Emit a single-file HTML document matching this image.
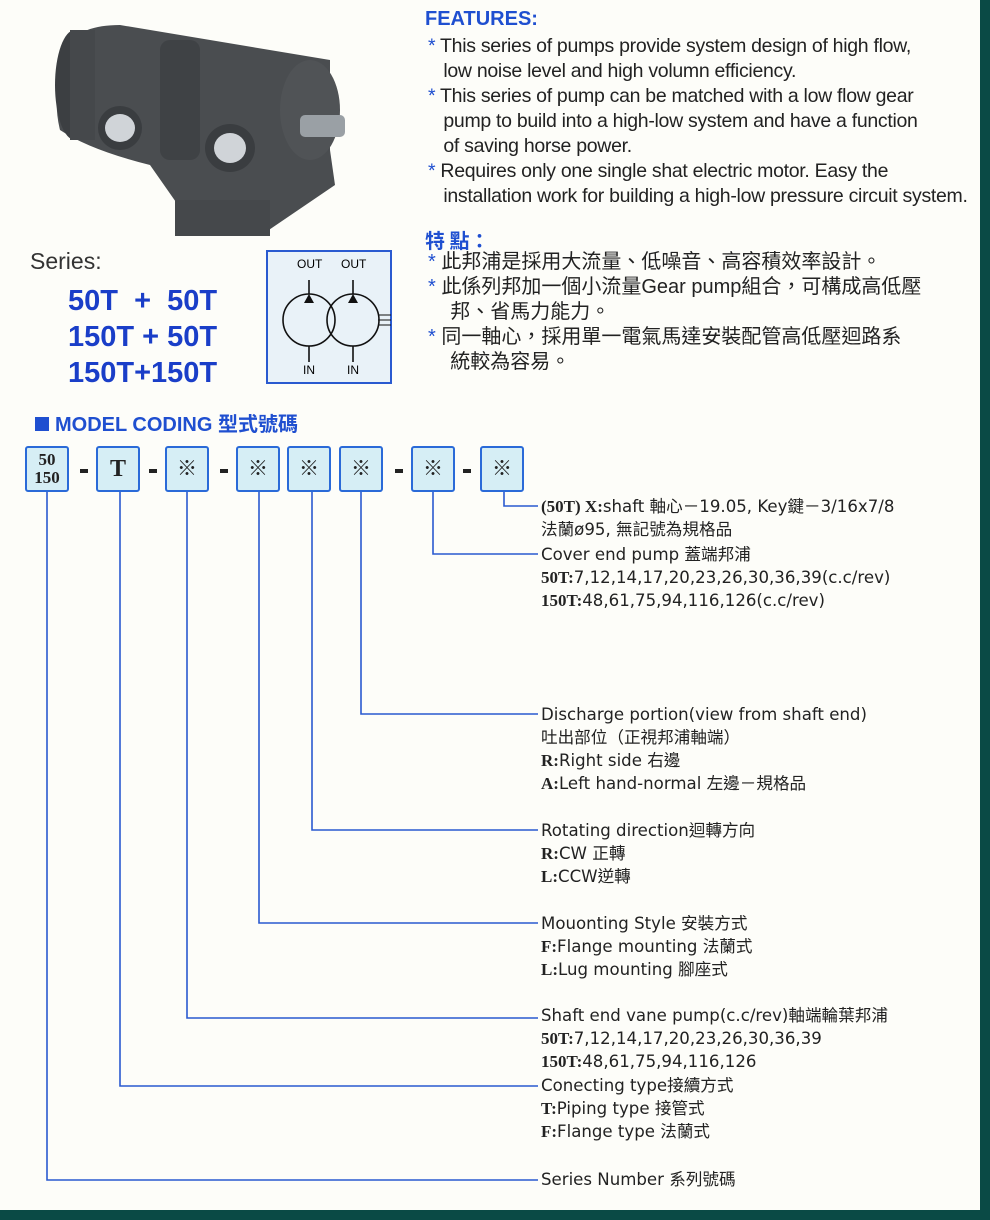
<!DOCTYPE html>
<html><head><meta charset="utf-8"><style>
body{margin:0;width:990px;height:1220px;overflow:hidden;background:#fdfdf9;position:relative;font-family:"Liberation Sans","Noto Sans CJK TC",sans-serif;}
.a{position:absolute;white-space:nowrap;}
.f{font-size:19.5px;color:#222;letter-spacing:-0.3px}
.c{font-size:20px;color:#222;font-family:"Liberation Sans","Noto Sans CJK TC",sans-serif;}
.s{color:#1f4fd0;}
.t{position:absolute;left:541px;font-size:16.6px;color:#222;line-height:23px;white-space:nowrap;font-family:"DejaVu Sans","Noto Sans CJK TC",sans-serif;}
.t b{font-family:"Liberation Serif","Noto Serif CJK SC",serif;font-size:17px;}
.box{position:absolute;top:446px;width:44px;height:46px;border:2px solid #2a6ad8;border-radius:3px;background:#d6eef5;box-sizing:border-box;text-align:center;font-size:20px;line-height:42px;color:#222;font-family:"Liberation Serif","Noto Sans CJK TC",serif;}
.d{position:absolute;top:469px;width:8px;height:4px;background:#222;}
</style></head><body>
<div style="position:absolute;right:0;top:0;width:10px;height:1220px;background:#0a4a45"></div>
<div style="position:absolute;left:0;bottom:0;width:990px;height:10px;background:#0a4a45"></div>

<svg class="a" style="left:0;top:0" width="400" height="240">
<path d="M70 45 Q80 25 120 25 L330 60 L330 150 L335 185 L260 236 L175 236 L178 205 L150 165 Q90 150 60 130 Q50 90 70 45Z" fill="#4a4d50"/>
<ellipse cx="75" cy="85" rx="20" ry="55" fill="#3c3f42"/>
<rect x="70" y="30" width="25" height="110" fill="#45484b"/>
<rect x="160" y="40" width="40" height="120" fill="#3f4245" rx="10"/>
<ellipse cx="120" cy="128" rx="22" ry="22" fill="#3a3d40"/><ellipse cx="120" cy="128" rx="15" ry="14" fill="#d0d4d8"/>
<ellipse cx="230" cy="148" rx="25" ry="24" fill="#3a3d40"/><ellipse cx="230" cy="148" rx="16" ry="15" fill="#d0d4d8"/>
<ellipse cx="310" cy="110" rx="30" ry="50" fill="#505356"/>
<rect x="300" y="115" width="45" height="22" fill="#9aa0a5" rx="5"/>
<rect x="175" y="200" width="95" height="36" fill="#45484b"/>
</svg>

<div class="a" style="left:30px;top:248px;font-size:23px;color:#333">Series:</div>
<div class="a" style="left:68px;top:283px;font-size:29px;font-weight:bold;color:#1a3ec8;line-height:36px">50T &nbsp;+ &nbsp;50T<br>150T + 50T<br>150T+150T</div>

<svg class="a" style="left:266px;top:250px" width="126" height="134">
<rect x="1" y="1" width="124" height="132" fill="#e9f2f8" stroke="#2a5ad0" stroke-width="2"/>
<circle cx="43" cy="70" r="26" fill="none" stroke="#111" stroke-width="1.6"/>
<circle cx="87" cy="70" r="26" fill="none" stroke="#111" stroke-width="1.6"/>
<line x1="43" y1="30" x2="43" y2="44" stroke="#111" stroke-width="1.6"/><line x1="87" y1="30" x2="87" y2="44" stroke="#111" stroke-width="1.6"/>
<polygon points="43,44 38,53 48,53" fill="#111"/><polygon points="87,44 82,53 92,53" fill="#111"/>
<line x1="43" y1="96" x2="43" y2="112" stroke="#111" stroke-width="1.6"/><line x1="87" y1="96" x2="87" y2="112" stroke="#111" stroke-width="1.6"/>
<line x1="112" y1="65" x2="125" y2="65" stroke="#111"/><line x1="112" y1="70" x2="125" y2="70" stroke="#111"/><line x1="112" y1="75" x2="125" y2="75" stroke="#111"/>
<text x="31" y="18" font-size="12" font-family="Liberation Sans">OUT</text><text x="75" y="18" font-size="12" font-family="Liberation Sans">OUT</text>
<text x="37" y="124" font-size="12" font-family="Liberation Sans">IN</text><text x="81" y="124" font-size="12" font-family="Liberation Sans">IN</text>
</svg>

<div class="a" style="left:425px;top:8px;font-size:20px;font-weight:bold;color:#1f4fd0">FEATURES:</div>
<div class="a f" style="left:428px;top:34px;line-height:25px">
<span class="s">*</span> This series of pumps provide system design of high flow,<br>&nbsp;&nbsp;&nbsp;low noise level and high volumn efficiency.<br>
<span class="s">*</span> This series of pump can be matched with a low flow gear<br>&nbsp;&nbsp;&nbsp;pump to build into a high-low system and have a function<br>&nbsp;&nbsp;&nbsp;of saving horse power.<br>
<span class="s">*</span> Requires only one single shat electric motor. Easy the<br>&nbsp;&nbsp;&nbsp;installation work for building a high-low pressure circuit system.</div>
<div class="a" style="left:425px;top:225px;font-size:20px;font-weight:bold;color:#1f4fd0;font-family:'Noto Sans CJK TC',sans-serif">特 點：</div>
<div class="a c" style="left:428px;top:250px;line-height:25px">
<span class="s">*</span> 此邦浦是採用大流量、低噪音、高容積效率設計。<br>
<span class="s">*</span> 此係列邦加一個小流量Gear pump組合，可構成高低壓<br>&nbsp;&nbsp;&nbsp;&nbsp;邦、省馬力能力。<br>
<span class="s">*</span> 同一軸心，採用單一電氣馬達安裝配管高低壓迴路系<br>&nbsp;&nbsp;&nbsp;&nbsp;統較為容易。</div>

<div class="a" style="left:35px;top:408px;font-size:20px;font-weight:bold;color:#1f4fd0"><span style="display:inline-block;width:14px;height:14px;background:#1f4fd0;margin-right:6px"></span>MODEL CODING 型式號碼</div>

<div class="box" style="left:25px;line-height:18px;padding-top:3px;font-weight:bold;font-size:17px">50<br>150</div>
<div class="d" style="left:80px"></div>
<div class="box" style="left:96px;font-weight:bold;font-size:24px">T</div>
<div class="d" style="left:149px"></div>
<div class="box" style="left:165px">※</div>
<div class="d" style="left:220px"></div>
<div class="box" style="left:236px">※</div>
<div class="box" style="left:287px">※</div>
<div class="box" style="left:339px">※</div>
<div class="d" style="left:395px"></div>
<div class="box" style="left:411px">※</div>
<div class="d" style="left:463px"></div>
<div class="box" style="left:480px">※</div>

<svg class="a" style="left:0;top:0" width="600" height="1200" fill="none" stroke="#2a5ad0" stroke-width="1.6">
<polyline points="504,492 504,506 538,506"/>
<polyline points="433,492 433,554 538,554"/>
<polyline points="361,492 361,714 538,714"/>
<polyline points="312,492 312,830 538,830"/>
<polyline points="259,492 259,923 538,923"/>
<polyline points="187,492 187,1018 538,1018"/>
<polyline points="120,492 120,1086 538,1086"/>
<polyline points="47,492 47,1180 538,1180"/>
</svg>

<div class="t" style="top:495px"><b>(50T) X:</b>shaft 軸心－19.05, Key鍵－3/16x7/8<br>法蘭ø95, 無記號為規格品</div>
<div class="t" style="top:543px">Cover end pump 蓋端邦浦<br><b>50T:</b>7,12,14,17,20,23,26,30,36,39(c.c/rev)<br><b>150T:</b>48,61,75,94,116,126(c.c/rev)</div>
<div class="t" style="top:703px">Discharge portion(view from shaft end)<br>吐出部位（正視邦浦軸端）<br><b>R:</b>Right side 右邊<br><b>A:</b>Left hand-normal 左邊－規格品</div>
<div class="t" style="top:819px">Rotating direction迴轉方向<br><b>R:</b>CW 正轉<br><b>L:</b>CCW逆轉</div>
<div class="t" style="top:912px">Mouonting Style 安裝方式<br><b>F:</b>Flange mounting 法蘭式<br><b>L:</b>Lug mounting 腳座式</div>
<div class="t" style="top:1004px">Shaft end vane pump(c.c/rev)軸端輪葉邦浦<br><b>50T:</b>7,12,14,17,20,23,26,30,36,39<br><b>150T:</b>48,61,75,94,116,126</div>
<div class="t" style="top:1074px">Conecting type接續方式<br><b>T:</b>Piping type 接管式<br><b>F:</b>Flange type 法蘭式</div>
<div class="t" style="top:1168px">Series Number 系列號碼</div>
</body></html>
